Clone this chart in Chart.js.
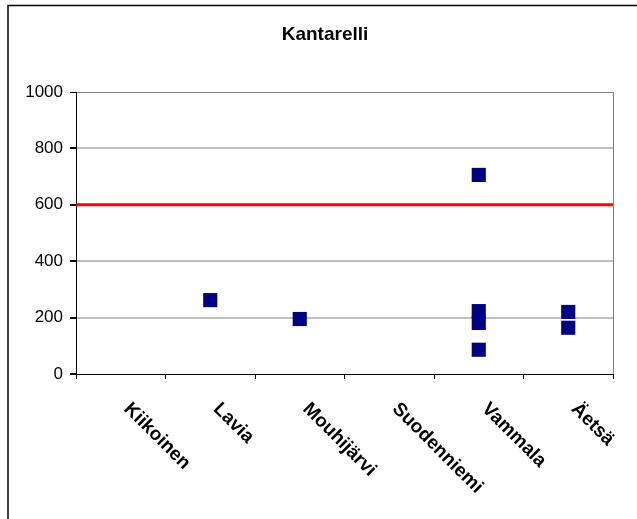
<!DOCTYPE html>
<html>
<head>
<meta charset="utf-8">
<script src="https://cdn.jsdelivr.net/npm/chart.js@4"></script>
<style>
  html, body { margin: 0; padding: 0; background: #fff; }
  #wrap { width: 637px; height: 519px; }
</style>
</head>
<body>
<div id="wrap"><canvas id="c" width="637" height="519"></canvas></div>
<script>
// Chart title
const titleText = 'Kantarelli';
// Municipalities along the x axis
const categories = ['Kiikoinen', 'Lavia', 'Mouhijärvi', 'Suodenniemi', 'Vammala', 'Äetsä'];
// Measured samples: site and value
const sampleSites  = ['Lavia', 'Mouhijärvi', 'Vammala', 'Vammala', 'Vammala', 'Vammala', 'Äetsä', 'Äetsä'];
const sampleValues = [262, 195, 706, 223, 181, 86, 220, 164];
// Limit value shown as the red line
const limitValue = 600;
// Y axis ticks
const yTickValues = [0, 200, 400, 600, 800, 1000];

const points = sampleSites.map((s, i) => ({ x: s, y: sampleValues[i] }));

const FONT = 'Arial, "Liberation Sans", sans-serif';

// Outer frame, white background and the title
const framePlugin = {
  id: 'frame',
  beforeDraw(chart) {
    const ctx = chart.ctx;
    ctx.save();
    ctx.fillStyle = '#fff';
    ctx.fillRect(0, 0, chart.width, chart.height);
    ctx.strokeStyle = '#000';
    ctx.lineWidth = 1.5;
    ctx.beginPath();
    ctx.moveTo(8, chart.height);
    ctx.lineTo(8, 5.5);
    ctx.lineTo(chart.width, 5.5);
    ctx.stroke();
    ctx.fillStyle = '#000';
    ctx.font = 'bold 19px ' + FONT;
    ctx.textAlign = 'center';
    ctx.textBaseline = 'middle';
    ctx.fillText(titleText, 325, 35);
    ctx.restore();
  }
};

// Limit line and right plot border
const limitPlugin = {
  id: 'limit',
  beforeDatasetsDraw(chart) {
    const { ctx, chartArea, scales } = chart;
    const y = scales.y.getPixelForValue(limitValue);
    ctx.save();
    ctx.strokeStyle = '#808080';
    ctx.lineWidth = 1;
    ctx.beginPath();
    ctx.moveTo(chartArea.right + 0.5, chartArea.top);
    ctx.lineTo(chartArea.right + 0.5, chartArea.bottom);
    ctx.stroke();
    ctx.strokeStyle = '#ff0000';
    ctx.lineWidth = 3;
    ctx.beginPath();
    ctx.moveTo(chartArea.left, y);
    ctx.lineTo(chartArea.right, y);
    ctx.stroke();
    ctx.restore();
  }
};

// Category labels turned 45° clockwise, starting under each category
const xLabelPlugin = {
  id: 'xLabels',
  afterDraw(chart) {
    const { ctx, chartArea, scales } = chart;
    ctx.save();
    ctx.fillStyle = '#000';
    ctx.font = 'bold 19px ' + FONT;
    ctx.textAlign = 'left';
    ctx.textBaseline = 'middle';
    categories.forEach((c, i) => {
      const x = scales.x.getPixelForValue(i);
      ctx.save();
      ctx.translate(x + 6, chartArea.bottom + 32);
      ctx.rotate(Math.PI / 4);
      ctx.fillText(c, 0, 0);
      ctx.restore();
    });
    ctx.restore();
  }
};

new Chart(document.getElementById('c'), {
  type: 'line',
  data: {
    labels: categories,
    datasets: [{
      data: points,
      showLine: false,
      pointStyle: 'rect',
      pointRadius: 10,
      pointHoverRadius: 10,
      pointBackgroundColor: '#000080',
      pointBorderWidth: 0,
      borderWidth: 0
    }]
  },
  options: {
    responsive: false,
    animation: false,
    events: [],
    layout: { padding: { left: 0, right: 24, top: 92, bottom: 0 } },
    plugins: {
      legend: { display: false },
      tooltip: { enabled: false },
      title: { display: false }
    },
    scales: {
      x: {
        type: 'category',
        offset: true,
        grid: {
          offset: true,
          drawOnChartArea: false,
          drawTicks: true,
          tickLength: 5,
          tickColor: '#000'
        },
        border: { color: '#000', width: 1 },
        ticks: { display: false },
        afterFit(scale) { scale.height = 145; }
      },
      y: {
        min: 0,
        max: 1000,
        afterBuildTicks(scale) { scale.ticks = yTickValues.map(v => ({ value: v })); },
        grid: {
          color: (c) => c.tick && c.tick.value === 1000 ? '#808080' : (c.tick && c.tick.value === 0 ? 'rgba(0,0,0,0)' : '#c0c0c0'),
          lineWidth: (c) => c.tick && c.tick.value === 1000 ? 1 : 2,
          tickColor: '#000',
          tickLength: 6,
          drawTicks: true
        },
        border: { color: '#000', width: 1 },
        ticks: {
          color: '#000',
          padding: 7,
          font: { family: FONT, size: 17 },
          callback: (v) => String(v)
        },
        afterFit(scale) { scale.width = 76; }
      }
    }
  },
  plugins: [framePlugin, limitPlugin, xLabelPlugin]
});
</script>
</body>
</html>
